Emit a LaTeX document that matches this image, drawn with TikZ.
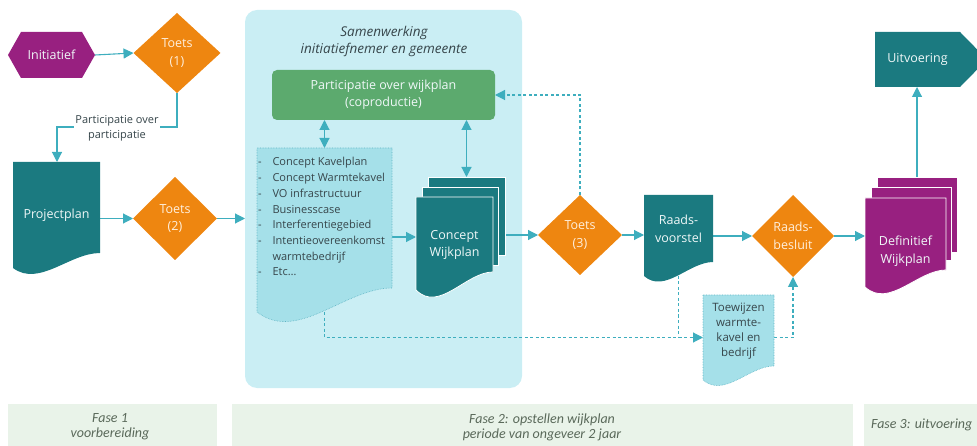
\documentclass[tikz,border=0pt]{standalone}
\usepackage{fontspec}
\setmainfont{Open Sans}
\newfontfamily\phasefont{Carlito}
\usetikzlibrary{shapes.geometric,arrows.meta,calc}
\definecolor{tealC}{RGB}{27,122,128}
\definecolor{purpC}{RGB}{152,32,128}
\definecolor{orngC}{RGB}{238,134,16}
\definecolor{grnC}{RGB}{92,170,110}
\definecolor{panelC}{RGB}{202,238,244}
\definecolor{docC}{RGB}{165,224,233}
\definecolor{dotC}{RGB}{95,180,196}
\definecolor{lineC}{RGB}{62,174,190}
\definecolor{phaseC}{RGB}{233,243,233}
\definecolor{phaseT}{RGB}{90,105,90}
\definecolor{darkT}{RGB}{55,70,75}
\definecolor{creamT}{RGB}{255,240,222}
\definecolor{whiteT}{RGB}{240,248,248}
\pgfdeclarelayer{back}
\pgfdeclarelayer{lines}
\pgfdeclarelayer{shapes}
\pgfsetlayers{back,lines,shapes,main}
\newcommand\docshape[6]{\path[#1] (#2,#3) -- (#4,#3) -- (#4,#6) .. controls ({#4-0.35*(#4-#2)},#6) and ({#2+0.3*(#4-#2)},{#5+1.3*(#5-#6)}) .. (#2,#5) -- cycle;}
\begin{document}
\begin{tikzpicture}[x=1pt,y=-1pt,
 mainfs/.style={font=\fontsize{12.5}{17.5}\selectfont},
 conn/.style={draw=lineC,line width=1.1pt,-{Triangle[length=10pt,width=10pt]}},
 dconn/.style={conn,dash pattern=on 3pt off 2.5pt},
 biconn/.style={conn,{Triangle[length=10pt,width=10pt]}-{Triangle[length=10pt,width=10pt]}},
 area/.style={inner sep=0pt,outer sep=0pt,draw=none},
 diam/.style={diamond,area,fill=orngC,text=creamT,align=center,mainfs},
 wtext/.style={area,text=whiteT,align=center,mainfs},
 sheet/.style={rectangle,area,fill=#1,draw=white,line width=0.8pt},
 ptext/.style={area,text=phaseT,align=center,font=\phasefont\itshape\fontsize{14}{15}\selectfont}
]
\useasboundingbox (0,0) rectangle (977,446);
% ---------- background
\begin{pgfonlayer}{back}
\node[area,fill=panelC,rounded corners=12pt,minimum width=277pt,minimum height=378pt] (panel) at (383.5,199) {};
\fill[phaseC] (8,404) rectangle (217,446);
\fill[phaseC] (232,404) rectangle (853,446);
\fill[phaseC] (864,404) rectangle (977,446);
\end{pgfonlayer}
\node[ptext] (f1) at (110,427) {Fase 1\\voorbereiding};
\node[ptext] (f2) at (542,427) {Fase 2: opstellen wijkplan\\periode van ongeveer 2 jaar};
\node[ptext,anchor=west] (f3) at (871,425) {Fase 3: uitvoering};
% ---------- shapes
\begin{pgfonlayer}{shapes}
\fill[purpC] (8,55) -- (21,32) -- (82,32) -- (95,55) -- (82,78) -- (21,78) -- cycle;
\docshape{fill=tealC}{13}{162}{100}{268}{253}
\docshape{fill=docC,draw=dotC,densely dotted,line width=0.6pt}{257}{148}{392}{312}{288}
\node[sheet=tealC,minimum width=77pt,minimum height=78pt] (cwback) at (466.5,216) {};
\node[sheet=tealC,minimum width=76pt,minimum height=78pt] (cwmid) at (460,226) {};
\docshape{fill=tealC,draw=white,line width=0.8pt}{416}{197}{493}{290}{272}
\docshape{fill=tealC}{644}{195}{713}{276}{262}
\docshape{fill=docC,draw=dotC,densely dotted,line width=0.6pt}{703}{295}{774}{380}{366}
\node[sheet=purpC,minimum width=80pt,minimum height=75pt] (dwback) at (917,214.5) {};
\node[sheet=purpC,minimum width=80pt,minimum height=73pt] (dwmid) at (911,223.5) {};
\docshape{fill=purpC,draw=white,line width=0.8pt}{865}{198}{946}{287}{270}
\fill[tealC] (875,32) -- (960,32) -- (987,59.5) -- (960,87) -- (875,87) -- cycle;
\end{pgfonlayer}
% ---------- nodes
\node[wtext,minimum width=87pt,minimum height=46pt] (init) at (51.5,55) {Initiatief};
\node[diam,minimum width=87pt,minimum height=80pt] (t1) at (177,53) {Toets\\(1)};
\node[wtext,minimum width=87pt,minimum height=106pt] (proj) at (56.5,215) {Projectplan};
\node[diam,minimum width=84pt,minimum height=83pt] (t2) at (175,218.5) {Toets\\(2)};
\node[area,text=darkT,align=center,font=\fontsize{13.5}{17}\selectfont\itshape] (sam) at (384,41) {Samenwerking\\initiatiefnemer en gemeente};
\node[area,fill=grnC,rounded corners=5pt,minimum width=223pt,minimum height=50pt,text=whiteT,align=center,mainfs] (part) at (383.5,95) {Participatie over wijkplan\\(coproductie)};
\node[area,minimum width=135pt,minimum height=164pt] (lst) at (324.5,230) {};
\node[area,anchor=north west,text=darkT,font=\fontsize{11}{15.7}\selectfont] (lsttxt) at (258,155) {\begin{tabular}{@{}l@{\hspace{11pt}}l@{}}
-&Concept Kavelplan\\
-&Concept Warmtekavel\\
-&VO infrastructuur\\
-&Businesscase\\
-&Interferentiegebied\\
-&Intentieovereenkomst\\
 &warmtebedrijf\\
-&Etc…
\end{tabular}};
\node[area,minimum width=77pt,minimum height=93pt] (cw) at (454.5,245) {};
\node[wtext] (cwtxt) at (454.5,245) {Concept\\Wijkplan};
\node[diam,minimum width=84pt,minimum height=80pt] (t3) at (580,235) {Toets\\(3)};
\node[area,minimum width=69pt,minimum height=81pt] (rv) at (678.5,235.5) {};
\node[wtext] (rvtxt) at (678.5,229) {Raads-\\voorstel};
\node[diam,minimum width=82pt,minimum height=82pt] (rb) at (793,236) {Raads-\\besluit};
\node[area,minimum width=81pt,minimum height=89pt] (dw) at (905.5,242.5) {};
\node[wtext] (dwtxt) at (905.5,251) {Definitief\\Wijkplan};
\node[wtext,minimum width=85pt,minimum height=55pt] (uit) at (917.5,59.5) {Uitvoering};
\node[area,minimum width=71pt,minimum height=85pt] (toew) at (738.5,337.5) {};
\node[area,text=darkT,align=center,font=\fontsize{11.5}{15.2}\selectfont] (toewtxt) at (738.5,331) {Toewijzen\\warmte-\\kavel en\\bedrijf};
\node[fill=white,inner sep=1pt,align=center,text=darkT,font=\fontsize{11}{15}\selectfont] (lab) at (117,128) {Participatie over\\participatie};
% ---------- connectors
\begin{pgfonlayer}{lines}
\coordinate (b1) at (57,127);
\coordinate (y237) at (0,237);
\draw[conn] (init.east) -- (t1.west);
\draw[conn] (t1.south) |- (b1) -- (b1 |- proj.north);
\draw[conn] (proj.east |- t2.west) -- (t2.west);
\draw[conn] (t2.east) -- (t2.east -| panel.west);
\draw[biconn] (part.south -| lst.north) -- (lst.north);
\draw[biconn] (part.south -| cwback.north) -- (cwback.north);
\draw[conn] (lst.east |- y237) -- (cw.west |- y237);
\draw[conn] (cwback.east |- t3.west) -- (t3.west);
\draw[dconn] (t3.north) |- (part.east);
\draw[conn] (t3.east) -- (rv.west |- t3.east);
\draw[conn] (rv.east |- rb.west) -- (rb.west);
\draw[conn] (rb.east) -- (dw.west |- rb.east);
\draw[conn] (dwback.north) -- (uit.south -| dwback.north);
\draw[dconn] (lst.south) |- (toew.west);
\draw[dconn,-] (rv.south) -- (rv.south |- toew.west);
\draw[dconn] (toew.east) -| (rb.south);
\end{pgfonlayer}
\end{tikzpicture}
\end{document}
